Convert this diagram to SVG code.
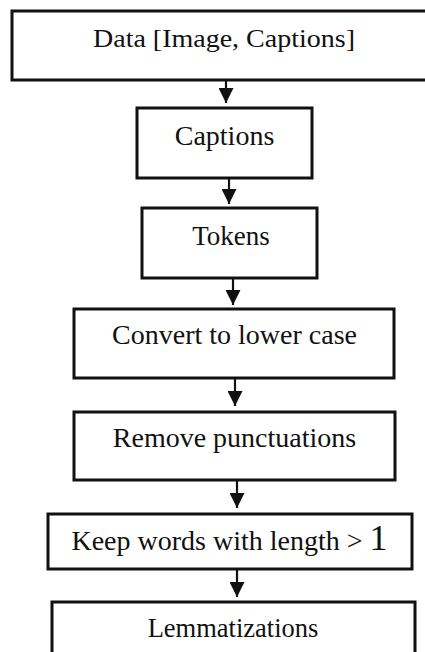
<svg xmlns="http://www.w3.org/2000/svg" width="425" height="652" viewBox="0 0 425 652">
  <style>
    .box { fill: #ffffff; stroke: #111111; stroke-width: 3; }
    .label { font-family: "Liberation Serif", "Times New Roman", serif; font-size: 28px; fill: #111111; text-anchor: middle; }
    .edge { stroke: #111111; stroke-width: 2.2; fill: none; marker-end: url(#arrow); }
  </style>
  <defs>
    <marker id="arrow" viewBox="0 0 15 15" refX="15" refY="7.5" markerWidth="15" markerHeight="15" markerUnits="userSpaceOnUse" orient="auto">
      <path d="M0,0 L15,7.5 L0,15 Z" fill="#111111"/>
    </marker>
  </defs>
  <rect width="425" height="652" fill="#ffffff"/>

  <g id="connectors">
    <line class="edge" x1="226" y1="80" x2="226" y2="103"/>
    <line class="edge" x1="229" y1="178" x2="229" y2="204"/>
    <line class="edge" x1="233" y1="278" x2="233" y2="305"/>
    <line class="edge" x1="235" y1="378" x2="235" y2="406"/>
    <line class="edge" x1="237" y1="480" x2="237" y2="508"/>
    <line class="edge" x1="237" y1="569" x2="237" y2="597"/>
  </g>

  <g id="data">
    <rect class="box" x="12" y="11" width="420" height="69"/>
    <text class="label" x="224" y="47" style="font-size:25px" textLength="262" lengthAdjust="spacingAndGlyphs">Data [Image, Captions]</text>
  </g>

  <g id="captions">
    <rect class="box" x="137" y="108" width="175" height="70"/>
    <text class="label" x="224.5" y="145">Captions</text>
  </g>

  <g id="tokens">
    <rect class="box" x="142" y="208" width="175" height="70"/>
    <text class="label" x="231" y="245" style="font-size:27px">Tokens</text>
  </g>

  <g id="lowercase">
    <rect class="box" x="74" y="309" width="320" height="69"/>
    <text class="label" x="234.5" y="344">Convert to lower case</text>
  </g>

  <g id="punctuation">
    <rect class="box" x="74" y="412" width="321" height="68"/>
    <text class="label" x="234.5" y="447">Remove punctuations</text>
  </g>

  <g id="length-filter">
    <rect class="box" x="48" y="514" width="364" height="55"/>
    <text class="label" x="229.5" y="550">Keep words with length &gt; <tspan style="font-size:36px">1</tspan></text>
  </g>

  <g id="lemmatization">
    <rect class="box" x="52" y="602" width="363" height="60"/>
    <text class="label" x="233" y="637" style="font-size:26.5px">Lemmatizations</text>
  </g>
</svg>
